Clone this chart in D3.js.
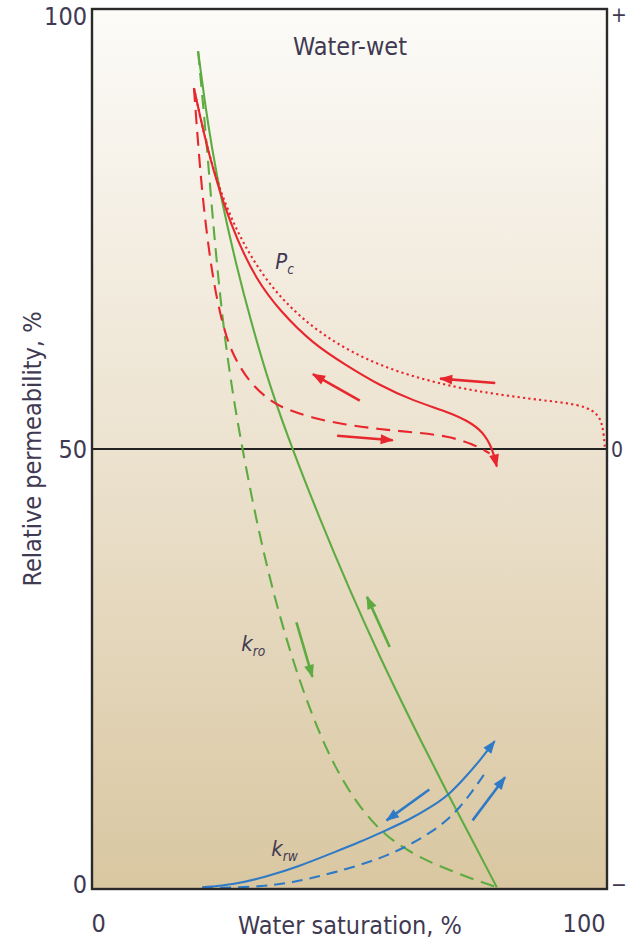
<!DOCTYPE html>
<html>
<head>
<meta charset="utf-8">
<script src="https://cdn.jsdelivr.net/npm/d3@7"></script>
<style>
  html, body { margin: 0; padding: 0; background: #ffffff; }
  svg { display: block; }
  text { font-family: "Liberation Sans Narrow", "Arial Narrow", "DejaVu Sans Condensed", sans-serif; fill: #3f3a52; }
</style>
</head>
<body>
<svg id="chart" width="626" height="940"></svg>
<script>
// Relative permeability (kro, krw) and capillary pressure (Pc) vs water saturation, water-wet rock.
// Values are [water saturation %, relative permeability %] or [water saturation %, Pc in -1..+1].

const leftTicks = [0, 50, 100];
const rightTicks = [1, 0, -1];
const rightTickLabels = ["+", "0", "\u2212"];
const bottomTicks = [0, 100];

// kro, drainage (solid) and imbibition (dashed)
const kroSolid = [
  [20.6, 95.2], [21.8, 89.8], [23.3, 84.1], [25.1, 78.4], [28.0, 70.9], [31.0, 64.2],
  [34.6, 57.0], [38.9, 50.0], [44.0, 42.4], [50.0, 34.0], [56.0, 26.2], [62.0, 19.0],
  [68.9, 11.0], [74.0, 5.4], [78.6, 0.2]
];
const kroDashed = [
  [20.6, 95.2], [21.6, 89.0], [22.5, 83.0], [23.4, 76.5], [24.5, 69.5], [25.8, 62.5],
  [27.4, 56.0], [29.2, 50.0], [32.0, 41.6], [35.0, 34.1], [38.5, 26.8], [42.5, 20.0],
  [47.0, 13.9], [52.0, 9.2], [57.0, 6.0], [62.3, 4.0], [67.0, 2.7], [71.4, 1.7],
  [75.0, 0.9], [78.6, 0.2]
];

// krw, drainage (solid) and imbibition (dashed)
const krwSolid = [
  [21.4, 0.2], [27.6, 0.5], [33.9, 1.4], [40.3, 2.6], [46.7, 4.1], [51.9, 5.3], [57.2, 6.7],
  [61.7, 7.9], [66.1, 9.4], [69.5, 10.8], [72.8, 12.9], [75.3, 14.6], [78.2, 16.8]
];
const krwDashed = [
  [21.4, 0.1], [31.5, 0.2], [38.9, 0.7], [46.7, 1.8], [57.2, 3.6], [66.1, 6.4], [71.4, 9.0], [76.7, 13.5]
];

// Capillary pressure: primary drainage (dotted), drainage (solid), imbibition (dashed)
const pcDotted = [
  [19.8, 0.82], [21.0, 0.755], [22.4, 0.685], [24.0, 0.62], [25.8, 0.56], [28.0, 0.50],
  [30.5, 0.445], [33.5, 0.39], [37.0, 0.34], [41.0, 0.295], [45.5, 0.255], [50.5, 0.22],
  [56.0, 0.19], [62.3, 0.165], [68.9, 0.145], [75.3, 0.13], [85.6, 0.113], [92.2, 0.105],
  [96.1, 0.095], [98.1, 0.08], [99.0, 0.06], [99.4, 0.03], [99.6, 0.0]
];
const pcSolid = [
  [19.8, 0.82], [21.0, 0.755], [22.3, 0.69], [23.8, 0.625], [25.5, 0.56], [28.0, 0.48],
  [31.9, 0.385], [36.4, 0.315], [42.8, 0.24], [49.4, 0.19], [55.8, 0.145], [62.3, 0.11],
  [68.9, 0.085], [72.8, 0.065], [75.9, 0.04], [77.8, 0.0], [78.6, -0.04]
];
const pcDashed = [
  [19.8, 0.82], [20.3, 0.74], [20.9, 0.65], [21.6, 0.56], [22.5, 0.47], [23.6, 0.38],
  [25.0, 0.30], [26.6, 0.235], [28.5, 0.19], [30.8, 0.15], [33.5, 0.12], [36.5, 0.095],
  [42.8, 0.07], [49.4, 0.055], [55.8, 0.045], [62.3, 0.038], [68.9, 0.03], [73.9, 0.012], [77.2, -0.01]
];

// Direction arrows: [from, to]
const pcArrows = [
  [[52.0, 0.11], [42.9, 0.17]],
  [[47.6, 0.03], [58.4, 0.02]],
  [[78.3, 0.15], [67.6, 0.16]]
];
const kroArrows = [
  [[57.8, 27.5], [53.4, 33.2]],
  [[39.7, 30.3], [42.8, 24.1]]
];
const krwArrows = [
  [[65.5, 11.3], [57.2, 7.8]],
  [[73.9, 7.8], [80.2, 12.7]]
];

const RED = "#e8262d", GREEN = "#5dab41", BLUE = "#2f7ac6";

const svg = d3.select("#chart");
const plot = { left: 92, right: 607, top: 9, bottom: 889 };

const x = d3.scaleLinear().domain([0, 100]).range([plot.left, plot.right]);
const y = d3.scaleLinear().domain([0, 100]).range([plot.bottom, plot.top]);
const yPc = d3.scaleLinear().domain([-1, 1]).range([plot.bottom, plot.top]);

// background gradient
const defs = svg.append("defs");
const grad = defs.append("linearGradient").attr("id", "bg")
  .attr("x1", 0).attr("y1", 0).attr("x2", 0).attr("y2", 1);
grad.append("stop").attr("offset", "0%").attr("stop-color", "#fcfbf8");
grad.append("stop").attr("offset", "50%").attr("stop-color", "#ece2cf");
grad.append("stop").attr("offset", "100%").attr("stop-color", "#d9c7a1");

function marker(id, color) {
  defs.append("marker").attr("id", id)
    .attr("viewBox", "0 0 12 10").attr("refX", 11).attr("refY", 5)
    .attr("markerUnits", "userSpaceOnUse").attr("markerWidth", 15).attr("markerHeight", 11)
    .attr("orient", "auto")
    .append("path").attr("d", "M0,0.5 L12,5 L0,9.5 Z").attr("fill", color);
}
marker("arRed", RED);
marker("arGreen", GREEN);
marker("arBlue", BLUE);

svg.append("rect")
  .attr("x", plot.left).attr("y", plot.top)
  .attr("width", plot.right - plot.left).attr("height", plot.bottom - plot.top)
  .attr("fill", "url(#bg)");

// zero-Pc / 50% line
svg.append("line")
  .attr("x1", x(0)).attr("x2", x(100)).attr("y1", y(50)).attr("y2", y(50))
  .attr("stroke", "#222").attr("stroke-width", 2.2);

const g = svg.append("g");
const lineKr = d3.line().x(d => x(d[0])).y(d => y(d[1])).curve(d3.curveBasis);
const linePc = d3.line().x(d => x(d[0])).y(d => yPc(d[1])).curve(d3.curveBasis);

function curve(data, gen, color, dash, endMarker) {
  const p = g.append("path").datum(data)
    .attr("d", gen).attr("fill", "none")
    .attr("stroke", color).attr("stroke-width", 2.1)
    .attr("stroke-linecap", "butt");
  if (dash) p.attr("stroke-dasharray", dash);
  if (endMarker) p.attr("marker-end", `url(#${endMarker})`);
}

curve(kroDashed, lineKr, GREEN, "14,8");
curve(kroSolid, lineKr, GREEN, null);
curve(krwDashed, lineKr, BLUE, "11,7");
curve(krwSolid, lineKr, BLUE, null, "arBlue");
curve(pcDotted, linePc, RED, "2.2,3.2");
curve(pcDashed, linePc, RED, "14,8");
curve(pcSolid, linePc, RED, null, "arRed");

function arrows(list, sy, color, id) {
  g.selectAll(null).data(list).enter().append("line")
    .attr("x1", d => x(d[0][0])).attr("y1", d => sy(d[0][1]))
    .attr("x2", d => x(d[1][0])).attr("y2", d => sy(d[1][1]))
    .attr("stroke", color).attr("stroke-width", 2.6)
    .attr("marker-end", `url(#${id})`);
}
arrows(pcArrows, yPc, RED, "arRed");
arrows(kroArrows, y, GREEN, "arGreen");
arrows(krwArrows, y, BLUE, "arBlue");

// frame
svg.append("rect")
  .attr("x", plot.left).attr("y", plot.top)
  .attr("width", plot.right - plot.left).attr("height", plot.bottom - plot.top)
  .attr("fill", "none").attr("stroke", "#2a2a2a").attr("stroke-width", 2.4);

// axes
const leftAxis = svg.append("g").attr("transform", `translate(${plot.left},0)`)
  .call(d3.axisLeft(y).tickValues(leftTicks).tickSize(0).tickPadding(5));
leftAxis.select(".domain").remove();
leftAxis.selectAll("text")
  .attr("font-size", 25).attr("font-family", null)
  .attr("dy", d => d === 100 ? "0.62em" : d === 0 ? "0.12em" : "0.35em");

const rightAxis = svg.append("g").attr("transform", `translate(${plot.right},0)`)
  .call(d3.axisRight(yPc).tickValues(rightTicks).tickSize(0).tickPadding(4)
    .tickFormat((d, i) => rightTickLabels[i]));
rightAxis.select(".domain").remove();
rightAxis.selectAll("text")
  .attr("font-size", 21).attr("font-family", null)
  .attr("dy", d => d === 1 ? "0.6em" : d === -1 ? "0.1em" : "0.35em");

const bottomAxis = svg.append("g").attr("transform", `translate(0,${plot.bottom})`)
  .call(d3.axisBottom(x).tickValues(bottomTicks).tickSize(0).tickPadding(25));
bottomAxis.select(".domain").remove();
bottomAxis.selectAll("text")
  .attr("font-size", 25).attr("font-family", null)
  .attr("text-anchor", d => d === 0 ? "start" : "end")
  .attr("dx", d => d === 0 ? -1 : -2);

// axis titles
svg.append("text")
  .attr("x", 350).attr("y", 934)
  .attr("text-anchor", "middle").attr("font-size", 25)
  .text("Water saturation, %");
svg.append("text")
  .attr("transform", `translate(41,${y(50)}) rotate(-90)`)
  .attr("text-anchor", "middle").attr("font-size", 25)
  .text("Relative permeability, %");

svg.append("text")
  .attr("x", 350).attr("y", 55)
  .attr("text-anchor", "middle").attr("font-size", 25)
  .text("Water-wet");

// curve labels
function subLabel(px, py, main, sub, size) {
  const t = svg.append("text").attr("x", px).attr("y", py)
    .attr("font-size", size).attr("font-style", "italic")
    .attr("font-family", "'Liberation Sans', Arial, sans-serif");
  t.append("tspan").text(main);
  t.append("tspan").attr("dy", 5).attr("font-size", size * 0.62).text(sub);
}
subLabel(x(35.6), yPc(0.41), "P", "c", 22);
subLabel(x(29.0), y(27.0), "k", "ro", 22);
subLabel(x(34.8), y(3.7), "k", "rw", 22);
</script>
</body>
</html>
